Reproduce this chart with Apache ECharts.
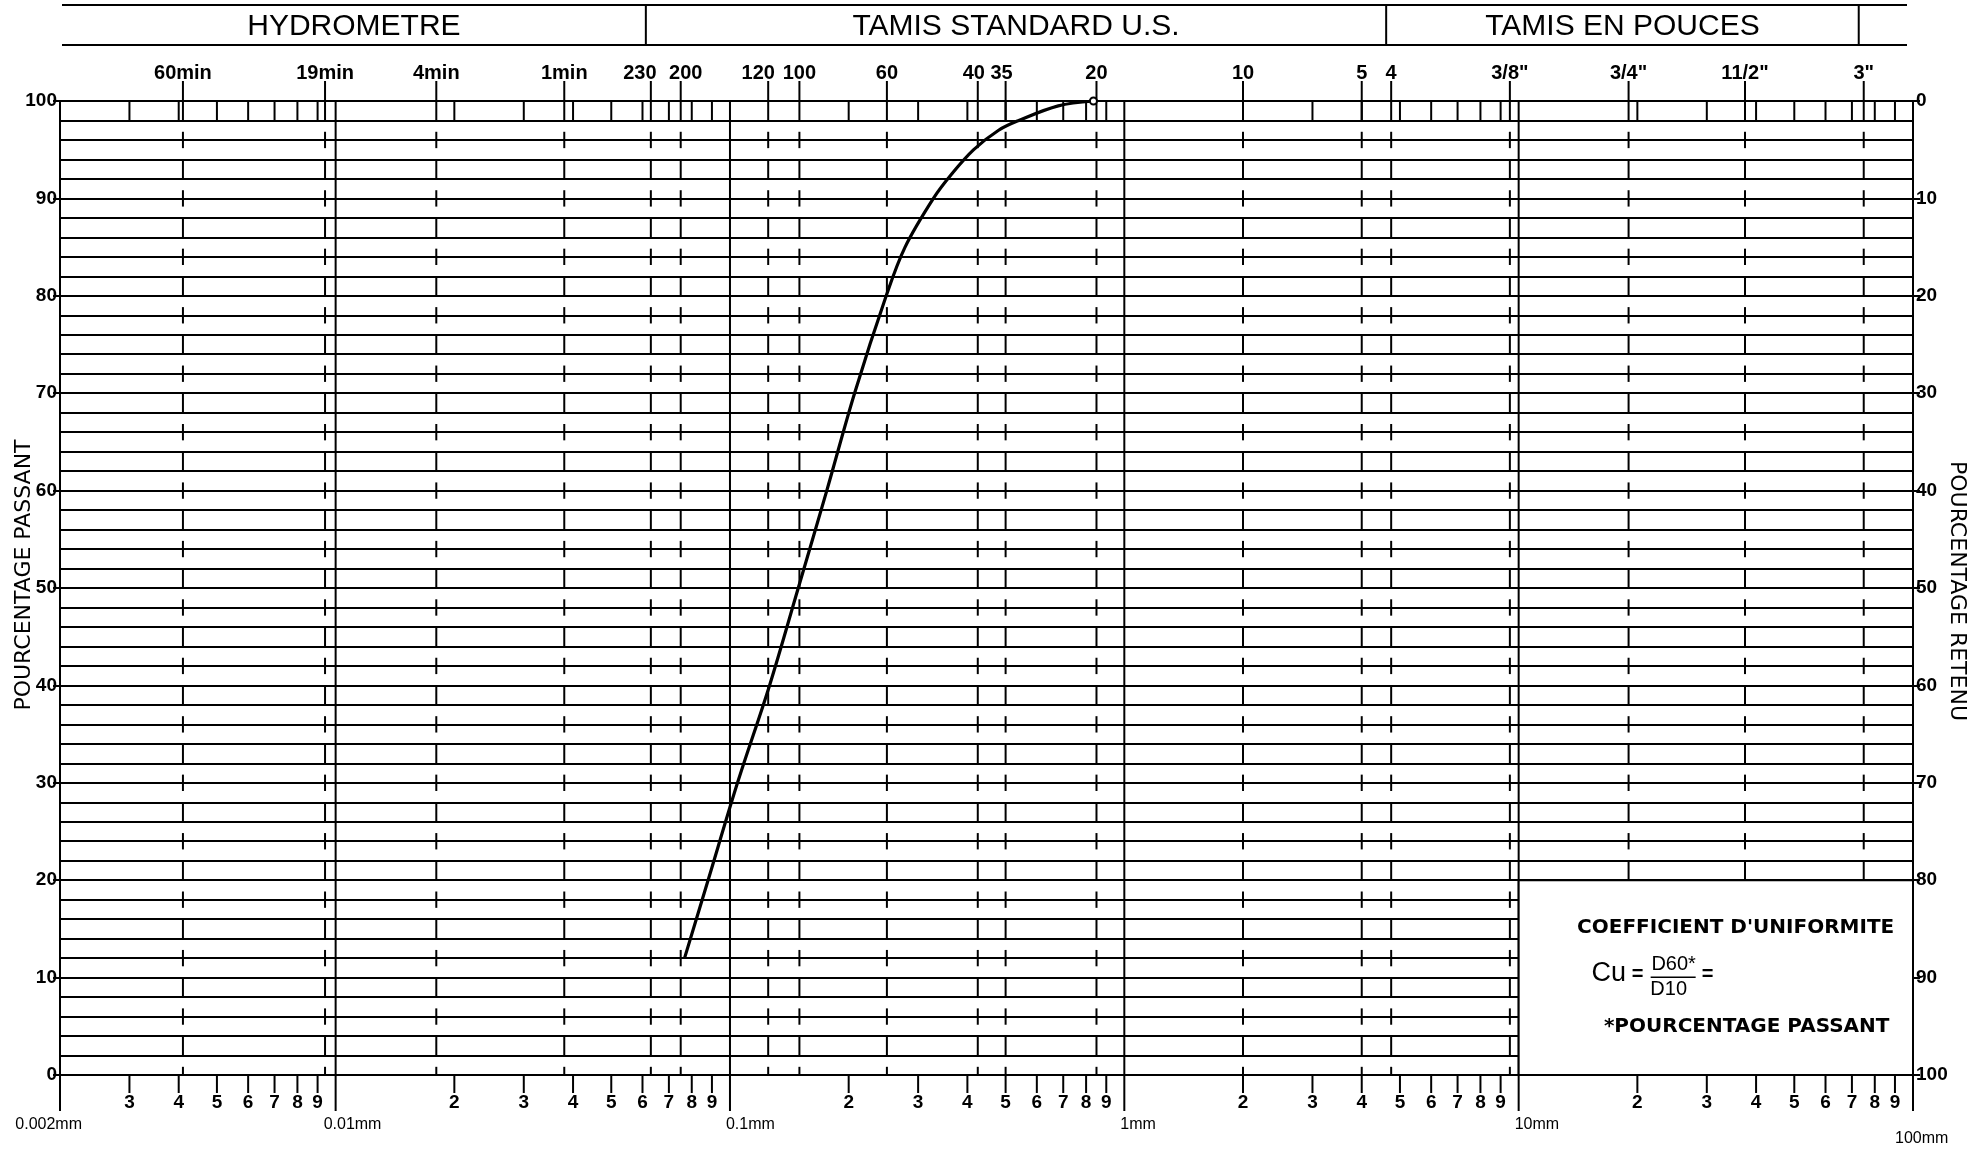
<!DOCTYPE html>
<html><head><meta charset="utf-8">
<script src="https://cdn.jsdelivr.net/npm/echarts@6/dist/echarts.min.js"></script>
<style>html,body{margin:0;padding:0;background:#fff}#c{width:1985px;height:1152px}</style>
</head><body><div id="c"></div>
<script>
// ---------------- data ----------------
const sieveSizes  = [0.0041, 0.0094, 0.018, 0.038, 0.063, 0.075, 0.125, 0.15, 0.25, 0.425, 0.5, 0.85, 2.0, 4.0, 4.75, 9.5, 19, 37.5, 75];
const sieveLabels = ['60min', '19min', '4min', '1min', '230', '200', '120', '100', '60', '40', '35', '20', '10', '5', '4', '3/8"', '3/4"', '11/2"', '3"'];
const decadeValues = [0.002, 0.01, 0.1, 1, 10, 100];
const decadeLabels = ['0.002mm', '0.01mm', '0.1mm', '1mm', '10mm', '100mm'];
const decadeBases  = [0.001, 0.01, 0.1, 1, 10];
const minorDigits  = [2, 3, 4, 5, 6, 7, 8, 9];
const headerTitles = ['HYDROMETRE', 'TAMIS STANDARD U.S.', 'TAMIS EN POUCES'];
const headerDividers = [0.063, 4.75, 75];
const grainSize      = [0.0767, 0.088, 0.1045, 0.126, 0.149, 0.176, 0.207, 0.249, 0.278, 0.328, 0.365, 0.415, 0.48, 0.54, 0.68, 0.835];
const percentPassing = [12, 20, 30, 40, 50, 60, 70, 80, 85, 90, 92.5, 95, 97, 98, 99.5, 100];

// ---------------- styles ----------------
const SANS = '"Liberation Sans", Arial, sans-serif';
const WIDE = '"DejaVu Sans", sans-serif';
const INK = '#000';
const labelShift = {'230': -11, '200': 5, '120': -10, '40': -4, '35': -4};

// minor log positions (2..9 in each decade) strictly inside the axis range
const minorValues = [];
const minorText = [];
decadeBases.forEach(b => minorDigits.forEach(d => {
  const v = Number((d * b).toPrecision(6));
  if (v > 0.002 && v < 100) { minorValues.push(v); minorText.push(String(d)); }
}));

function renderForm(params, api) {
  const X = v => api.coord([v, 50])[0];
  const Y = p => api.coord([1, p])[1];
  const y100 = Y(100), y0 = Y(0), rowH = (y0 - y100) / 50;
  const xL = X(0.002), xR = X(100);
  const ch = [];
  const line = (x1, y1, x2, y2, w) => ch.push({type: 'line', shape: {x1, y1, x2, y2}, style: {stroke: INK, lineWidth: w || 2}});
  const text = (t, x, y, font, align, va, rot) => ch.push({type: 'text', x, y, rotation: rot || 0,
    style: {text: t, x: 0, y: 0, font, fill: INK, align: align || 'center', verticalAlign: va || 'middle'}});
  const inBox = (v, p) => v > 10 && p < 20;

  // header band
  const hx0 = xL + 2, hx1 = xR - 6, hy0 = 5, hy1 = 45;
  line(hx0, hy0, hx1, hy0, 2);
  line(hx0, hy1, hx1, hy1, 2);
  const bounds = [hx0].concat(headerDividers.map(v => X(v) - 5));
  headerDividers.forEach(v => line(X(v) - 5, hy0, X(v) - 5, hy1, 2));
  headerTitles.forEach((t, i) => text(t, (bounds[i] + bounds[i + 1]) / 2, 27, '30px ' + SANS));

  // brick rows (every 6 %, starting with the top row)
  for (let p = 98; p >= 0; p -= 6) {
    const vals = p === 98 ? sieveSizes.concat(minorValues) : sieveSizes;
    vals.forEach(v => { if (!inBox(v, p)) line(X(v), Y(p + 2), X(v), Y(p), 2); });
  }
  // cross ticks on lines (every 6 %)
  for (let q = 96; q >= 0; q -= 6) {
    sieveSizes.forEach(v => {
      if (inBox(v, q)) return;
      const y = Y(q);
      line(X(v), y - rowH * 0.42, X(v), q === 0 ? y : y + rowH * 0.42, 2);
    });
  }
  // labelled marks at the top
  sieveSizes.forEach((v, i) => {
    line(X(v), y100 - 20, X(v), y100, 2);
    const lab = sieveLabels[i];
    text(lab, X(v) + (labelShift[lab] || 0), y100 - 28, 'bold 20px ' + SANS);
  });
  // decade lines + mm labels
  decadeValues.forEach((v, i) => {
    line(X(v), y100, X(v), y0 + 36, 2);
    const lab = decadeLabels[i];
    if (i === 0) text(lab, X(v) + 22, y0 + 50, '16px ' + SANS, 'right');
    else if (i === decadeValues.length - 1) text(lab, X(v) - 18, y0 + 64, '16px ' + SANS, 'left');
    else text(lab, X(v) - (i === 1 ? 12 : 4), y0 + 50, '16px ' + SANS, 'left');
  });
  // minor ticks + digits below the 0 line
  minorValues.forEach((v, i) => {
    line(X(v), y0, X(v), y0 + 18, 2);
    text(minorText[i], X(v), y0 + 28, 'bold 19px ' + SANS);
  });

  // axis titles
  const yMid = (y100 + y0) / 2;
  text('POURCENTAGE PASSANT', xL - 36, yMid - 13, '22px ' + WIDE, 'center', 'middle', Math.PI / 2);
  text('POURCENTAGE RETENU', xR + 44, yMid + 3, '22px ' + WIDE, 'center', 'middle', -Math.PI / 2);

  // uniformity box
  const bx = X(10), by = Y(20);
  ch.push({type: 'rect', shape: {x: bx, y: by, width: xR - bx, height: y0 - by}, style: {fill: '#fff', stroke: INK, lineWidth: 2}});
  text("COEFFICIENT D'UNIFORMITE", bx + 217, by + 48, 'bold 20px ' + WIDE);
  text('Cu', bx + 90, by + 93, '27px ' + SANS);
  text('=', bx + 119, by + 94, 'bold 20px ' + SANS);
  text('D60*', bx + 155, by + 84, '20px ' + SANS);
  line(bx + 132, by + 97, bx + 177, by + 97, 1.5);
  text('D10', bx + 150, by + 109, '20px ' + SANS);
  text('=', bx + 189, by + 94, 'bold 20px ' + SANS);
  text('*POURCENTAGE PASSANT', bx + 228, by + 147, 'bold 20px ' + WIDE);

  return {type: 'group', children: ch};
}

const chart = echarts.init(document.getElementById('c'), null, {renderer: 'canvas'});
const axisCommon = {
  type: 'value', min: 0, max: 100, interval: 10,
  axisLine: {show: true, lineStyle: {color: INK, width: 2}},
  axisTick: {show: true, length: 7, lineStyle: {color: INK, width: 2}},
  axisLabel: {color: INK, fontWeight: 'bold', fontSize: 19, fontFamily: SANS, margin: 3}
};
chart.setOption({
  animation: false,
  backgroundColor: '#fff',
  grid: {left: 60, right: 72, top: 101, bottom: 77},
  xAxis: {type: 'log', logBase: 10, min: 0.002, max: 100,
    axisLine: {show: false}, axisTick: {show: false}, axisLabel: {show: false}, splitLine: {show: false}},
  yAxis: [
    Object.assign({}, axisCommon, {
      position: 'left',
      splitLine: {show: true, lineStyle: {color: INK, width: 2}},
      minorTick: {show: false, splitNumber: 5},
      minorSplitLine: {show: true, lineStyle: {color: INK, width: 2}}
    }),
    Object.assign({}, axisCommon, {position: 'right', inverse: true, splitLine: {show: false}})
  ],
  series: [
    {type: 'custom', renderItem: renderForm, data: [0], silent: true, z: 3},
    {type: 'line', data: grainSize.map((g, i) => [g, percentPassing[i]]), smooth: 0.35,
      showSymbol: true,
      symbol: (val, p) => p.dataIndex === grainSize.length - 1 ? 'emptyCircle' : 'none',
      symbolSize: 7, itemStyle: {color: INK, borderColor: INK, borderWidth: 2},
      lineStyle: {color: INK, width: 3.2}, z: 5}
  ]
});
</script>
</body></html>
